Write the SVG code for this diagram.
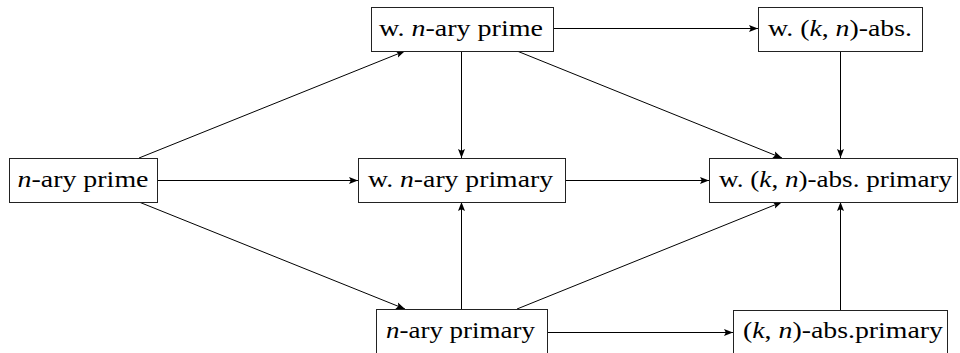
<svg xmlns="http://www.w3.org/2000/svg" width="960" height="353" viewBox="0 0 960 353">
<style>
.box{fill:#fff;stroke:#222;stroke-width:1}
.lbl{font-family:"Liberation Serif","DejaVu Serif",serif;font-size:23px;fill:#000}
.m{font-style:italic}
.edge{stroke:#000;stroke-width:1;fill:none;marker-end:url(#arr)}
</style>
<defs>
<marker id="arr" markerUnits="userSpaceOnUse" markerWidth="10" markerHeight="8" refX="9" refY="4" orient="auto">
<path d="M0,0.5 L9,4 L0,7.5 L1.8,4 Z" fill="#000"/>
</marker>
</defs>
<g id="connectors">
<line class="edge" x1="139" y1="158" x2="405" y2="51"/>
<line class="edge" x1="157" y1="180.5" x2="358" y2="180.5"/>
<line class="edge" x1="139" y1="202" x2="405" y2="309"/>
<line class="edge" x1="553" y1="28.5" x2="758" y2="28.5"/>
<line class="edge" x1="461.5" y1="51" x2="461.5" y2="158"/>
<line class="edge" x1="517" y1="51" x2="782" y2="158"/>
<line class="edge" x1="840.5" y1="51" x2="840.5" y2="158"/>
<line class="edge" x1="565" y1="180.5" x2="709" y2="180.5"/>
<line class="edge" x1="461.5" y1="309" x2="461.5" y2="202"/>
<line class="edge" x1="517" y1="309" x2="782" y2="202"/>
<line class="edge" x1="547" y1="332.5" x2="733" y2="332.5"/>
<line class="edge" x1="840.5" y1="310" x2="840.5" y2="202"/>
</g>
<g id="n-ary-prime">
<rect class="box" x="9.5" y="158.5" width="148" height="44"/>
<text class="lbl" x="17.5" y="187" textLength="131" lengthAdjust="spacingAndGlyphs"><tspan class="m">n</tspan>-ary prime</text>
</g>
<g id="w-n-ary-prime">
<rect class="box" x="371.5" y="7.5" width="182" height="44"/>
<text class="lbl" x="379" y="36" textLength="164" lengthAdjust="spacingAndGlyphs">w.  <tspan class="m">n</tspan>-ary prime</text>
</g>
<g id="w-kn-abs">
<rect class="box" x="758.5" y="7.5" width="164" height="44"/>
<text class="lbl" x="768" y="36" textLength="144" lengthAdjust="spacingAndGlyphs">w.  (<tspan class="m">k</tspan>, <tspan class="m">n</tspan>)-abs.</text>
</g>
<g id="w-n-ary-primary">
<rect class="box" x="358.5" y="158.5" width="207" height="44"/>
<text class="lbl" x="368" y="187" textLength="185" lengthAdjust="spacingAndGlyphs">w.  <tspan class="m">n</tspan>-ary primary</text>
</g>
<g id="w-kn-abs-primary">
<rect class="box" x="709.5" y="158.5" width="248" height="44"/>
<text class="lbl" x="719" y="187" textLength="233" lengthAdjust="spacingAndGlyphs">w.  (<tspan class="m">k</tspan>, <tspan class="m">n</tspan>)-abs.  primary</text>
</g>
<g id="n-ary-primary">
<rect class="box" x="376.5" y="309.5" width="171" height="44"/>
<text class="lbl" x="386" y="338" textLength="149" lengthAdjust="spacingAndGlyphs"><tspan class="m">n</tspan>-ary primary</text>
</g>
<g id="kn-abs-primary">
<rect class="box" x="733.5" y="310.5" width="214" height="44"/>
<text class="lbl" x="743" y="338" textLength="200" lengthAdjust="spacingAndGlyphs">(<tspan class="m">k</tspan>, <tspan class="m">n</tspan>)-abs.primary</text>
</g>
</svg>
